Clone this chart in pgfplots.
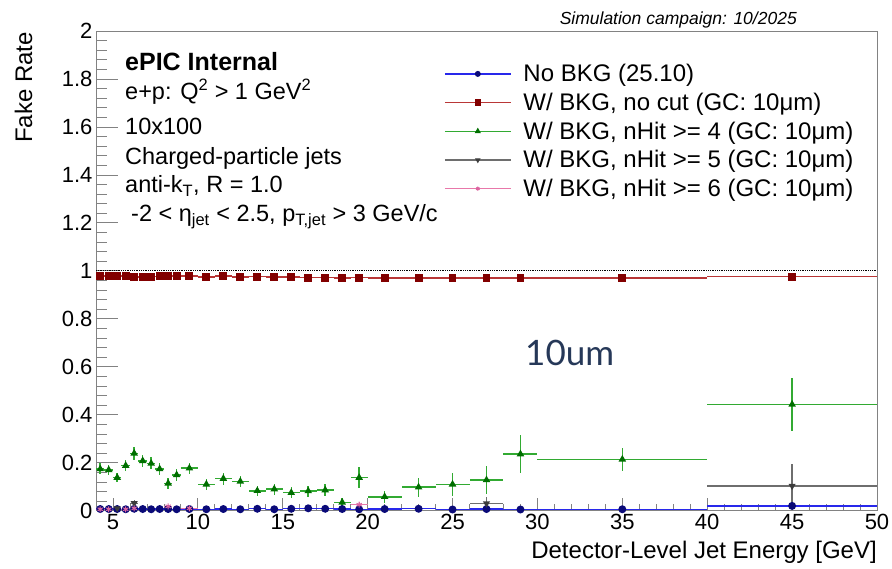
\documentclass[border=0pt]{standalone}
\usepackage{pgfplots}
\pgfplotsset{compat=1.18}
\usepackage{pgfplotstable}
\usepackage{amsmath}
\usepackage{fontspec}
\setmainfont{Liberation Sans}
\newfontfamily\notefont{Lato}

\definecolor{framegray}{RGB}{130,130,130}
\definecolor{blueline}{RGB}{40,40,235}
\definecolor{bluemark}{RGB}{10,10,120}
\definecolor{redline}{RGB}{185,55,55}
\definecolor{redmark}{RGB}{130,0,0}
\definecolor{greenline}{RGB}{50,170,50}
\definecolor{greenmark}{RGB}{0,110,0}
\definecolor{grayline}{RGB}{110,110,110}
\definecolor{graymark}{RGB}{60,60,60}
\definecolor{pinkline}{RGB}{232,120,170}
\definecolor{pinkmark}{RGB}{220,100,160}
\definecolor{notecolor}{RGB}{38,56,88}

% x = bin centre, ex = half bin width, y = fake rate, ey = stat. error
\pgfplotstableread{
x     ex    y      ey
4.25  0.25  0.007  0.002
4.75  0.25  0.007  0.002
5.25  0.25  0.007  0.002
5.75  0.25  0.006  0.002
6.25  0.25  0.008  0.002
6.75  0.25  0.007  0.002
7.25  0.25  0.006  0.002
7.75  0.25  0.007  0.002
8.25  0.25  0.007  0.002
8.75  0.25  0.006  0.002
9.5   0.5   0.007  0.002
10.5  0.5   0.006  0.002
11.5  0.5   0.007  0.002
12.5  0.5   0.006  0.002
13.5  0.5   0.008  0.002
14.5  0.5   0.006  0.002
15.5  0.5   0.008  0.002
16.5  0.5   0.010  0.003
17.5  0.5   0.008  0.002
18.5  0.5   0.007  0.002
19.5  0.5   0.006  0.002
21    1     0.007  0.002
23    1     0.008  0.002
25    1     0.005  0.002
27    1     0.007  0.002
29    1     0.005  0.002
35    5     0.006  0.002
45    5     0.020  0.004
}\nobkg

\pgfplotstableread{
x     ex    y      ey
4.25  0.25  0.979  0.003
4.75  0.25  0.979  0.003
5.25  0.25  0.979  0.003
5.75  0.25  0.978  0.003
6.25  0.25  0.975  0.003
6.75  0.25  0.975  0.003
7.25  0.25  0.976  0.003
7.75  0.25  0.977  0.003
8.25  0.25  0.979  0.003
8.75  0.25  0.979  0.003
9.5   0.5   0.979  0.003
10.5  0.5   0.975  0.003
11.5  0.5   0.979  0.003
12.5  0.5   0.975  0.003
13.5  0.5   0.976  0.003
14.5  0.5   0.974  0.003
15.5  0.5   0.975  0.003
16.5  0.5   0.972  0.003
17.5  0.5   0.972  0.003
18.5  0.5   0.970  0.003
19.5  0.5   0.972  0.003
21    1     0.970  0.003
23    1     0.970  0.003
25    1     0.970  0.003
27    1     0.970  0.003
29    1     0.970  0.003
35    5     0.970  0.003
45    5     0.976  0.003
}\nocut

\pgfplotstableread{
x     ex    y      ey
4.25  0.25  0.174  0.023
4.75  0.25  0.170  0.022
5.25  0.25  0.138  0.020
5.75  0.25  0.188  0.024
6.25  0.25  0.239  0.028
6.75  0.25  0.208  0.026
7.25  0.25  0.197  0.025
7.75  0.25  0.174  0.024
8.25  0.25  0.114  0.024
8.75  0.25  0.149  0.024
9.5   0.5   0.177  0.022
10.5  0.5   0.110  0.024
11.5  0.5   0.134  0.025
12.5  0.5   0.122  0.024
13.5  0.5   0.083  0.022
14.5  0.5   0.090  0.023
15.5  0.5   0.075  0.022
16.5  0.5   0.082  0.023
17.5  0.5   0.086  0.024
18.5  0.5   0.035  0.017
19.5  0.5   0.138  0.045
21    1     0.058  0.026
23    1     0.098  0.040
25    1     0.110  0.047
27    1     0.128  0.057
29    1     0.236  0.078
35    5     0.214  0.049
45    5     0.443  0.111
}\nhitfour

\pgfplotstableread{
x     ex    y      ey
5.25  0.25  0.010  0.006
6.25  0.25  0.031  0.015
27    1     0.030  0.026
45    5     0.103  0.090
}\nhitfive

\pgfplotstableread{
x     ex    y      ey
4.25  0.25  0.006  0.003
4.75  0.25  0.006  0.003
5.75  0.25  0.006  0.003
6.25  0.25  0.010  0.004
8.25  0.25  0.018  0.007
9.5   0.5   0.010  0.004
19.5  0.5   0.025  0.012
}\nhitsix

\begin{document}
\begin{tikzpicture}[x=1pt,y=1pt]
\useasboundingbox (0,0) rectangle (892,568);
\begin{axis}[
  at={(96pt,57.3pt)}, anchor=south west,
  scale only axis, width=781pt, height=479.7pt,
  xmin=4, xmax=50, ymin=0, ymax=2,
  xtick={5,10,...,50}, minor x tick num=4,
  ytick={0,0.2,0.4,0.6,0.8,1,1.2,1.4,1.6,1.8,2}, minor y tick num=4,
  yticklabels={0,0.2,0.4,0.6,0.8,1,1.2,1.4,1.6,1.8,2},
  tick align=inside, xtick pos=bottom, ytick pos=left,
  xtick style={/pgfplots/major tick length=13pt,/pgfplots/minor tick length=6.5pt,draw=framegray,line width=0.8pt},
  ytick style={/pgfplots/major tick length=22pt,/pgfplots/minor tick length=11pt,draw=framegray,line width=0.8pt},
  axis line style={draw=framegray,line width=0.8pt},
  /pgf/number format/assume math mode=true,
  ticklabel style={font=\fontsize{22}{26}\selectfont},
  clip=false,
  error bars/error mark=none,
  legend cell align=left,
  legend image code/.code={\draw[mark repeat=2,mark phase=2,#1] plot coordinates {(0pt,0pt) (33pt,0pt) (66pt,0pt)};},
  legend style={at={(axis description cs:0.4417,0.939)}, anchor=north west,
    draw=none, fill=none, font=\fontsize{24}{28}\selectfont,
    row sep=5.8pt, column sep=10pt},
]
% reference line at unity
\addplot[black, densely dotted, line width=0.8pt, forget plot] coordinates {(4,1) (50,1)};

\addplot[blueline, line width=1.3pt, only marks, mark=*, mark size=3.3pt, forget plot,
  mark options={fill=bluemark, draw=bluemark},
  error bars/.cd, x dir=both, x explicit, y dir=both, y explicit, error bar style={line width=1.3pt}]
  table[x=x, y=y, x error=ex, y error=ey] {\nobkg};
\addplot[redline, line width=1.3pt, only marks, mark=square*, mark size=3.3pt, forget plot,
  mark options={fill=redmark, draw=redmark},
  error bars/.cd, x dir=both, x explicit, y dir=both, y explicit, error bar style={line width=1.5pt}]
  table[x=x, y=y, x error=ex, y error=ey] {\nocut};
\addplot[greenline, line width=1.3pt, only marks, mark=triangle*, mark size=3.1pt, forget plot,
  mark options={fill=greenmark, draw=greenmark},
  error bars/.cd, x dir=both, x explicit, y dir=both, y explicit, error bar style={line width=1.5pt}]
  table[x=x, y=y, x error=ex, y error=ey] {\nhitfour};
\addplot[grayline, line width=1.3pt, only marks, mark=triangle*, mark size=2.8pt, forget plot,
  mark options={fill=graymark, draw=graymark, rotate=180},
  error bars/.cd, x dir=both, x explicit, y dir=both, y explicit, error bar style={line width=1.3pt}]
  table[x=x, y=y, x error=ex, y error=ey] {\nhitfive};
\addplot[pinkline, line width=1.3pt, only marks, mark=asterisk, mark size=3pt, forget plot,
  mark options={draw=pinkmark, line width=1pt},
  error bars/.cd, x dir=both, x explicit, y dir=both, y explicit, error bar style={line width=1.3pt}]
  table[x=x, y=y, x error=ex, y error=ey] {\nhitsix};

\addlegendimage{blueline, line width=1.3pt, mark=*, mark size=2.3pt, mark options={fill=bluemark, draw=bluemark}}
\addlegendentry{No BKG (25.10)}
\addlegendimage{redline, line width=1.3pt, mark=square*, mark size=2.6pt, mark options={fill=redmark, draw=redmark}}
\addlegendentry{W/ BKG, no cut (GC: 10μm)}
\addlegendimage{greenline, line width=1.3pt, mark=triangle*, mark size=2.3pt, mark options={fill=greenmark, draw=greenmark}}
\addlegendentry{W/ BKG, nHit >= 4 (GC: 10μm)}
\addlegendimage{grayline, line width=1.3pt, mark=triangle*, mark size=2pt, mark options={fill=graymark, draw=graymark, rotate=180}}
\addlegendentry{W/ BKG, nHit >= 5 (GC: 10μm)}
\addlegendimage{pinkline, line width=1.3pt, mark=asterisk, mark size=2pt, mark options={draw=pinkmark}}
\addlegendentry{W/ BKG, nHit >= 6 (GC: 10μm)}
\end{axis}

% axis titles
\node[rotate=90, anchor=base east, inner sep=0pt, font=\fontsize{24}{28}\selectfont] at (32,536) {Fake Rate};
\node[anchor=base east, inner sep=0pt, font=\fontsize{24}{28}\selectfont] at (877,10) {Detector-Level Jet Energy [GeV]};
\node[anchor=base east, inner sep=0pt, font=\fontsize{17.5}{20}\selectfont\itshape] at (797,543) {Simulation campaign: 10/2025};

% selection summary
\begin{scope}[every node/.style={anchor=base west, inner sep=0pt, font=\fontsize{23.5}{28}\selectfont}]
\node[font=\fontsize{25}{30}\selectfont\bfseries] at (125,497) {ePIC Internal};
\node at (125,468) {e+p: Q$^{\text{2}}$ > 1 GeV$^{\text{2}}$};
\node at (125,433) {10x100};
\node at (125,403) {Charged-particle jets};
\node at (125,375) {anti-k$_{\text{T}}$, R = 1.0};
\node at (131,346) {-2 < η$_{\text{jet}}$ < 2.5, p$_{\text{T,jet}}$ > 3 GeV/c};
\end{scope}

\node[anchor=base west, inner sep=0pt, text=notecolor, font=\notefont\fontsize{35}{40}\selectfont] at (525,202) {10um};
\end{tikzpicture}
\end{document}
